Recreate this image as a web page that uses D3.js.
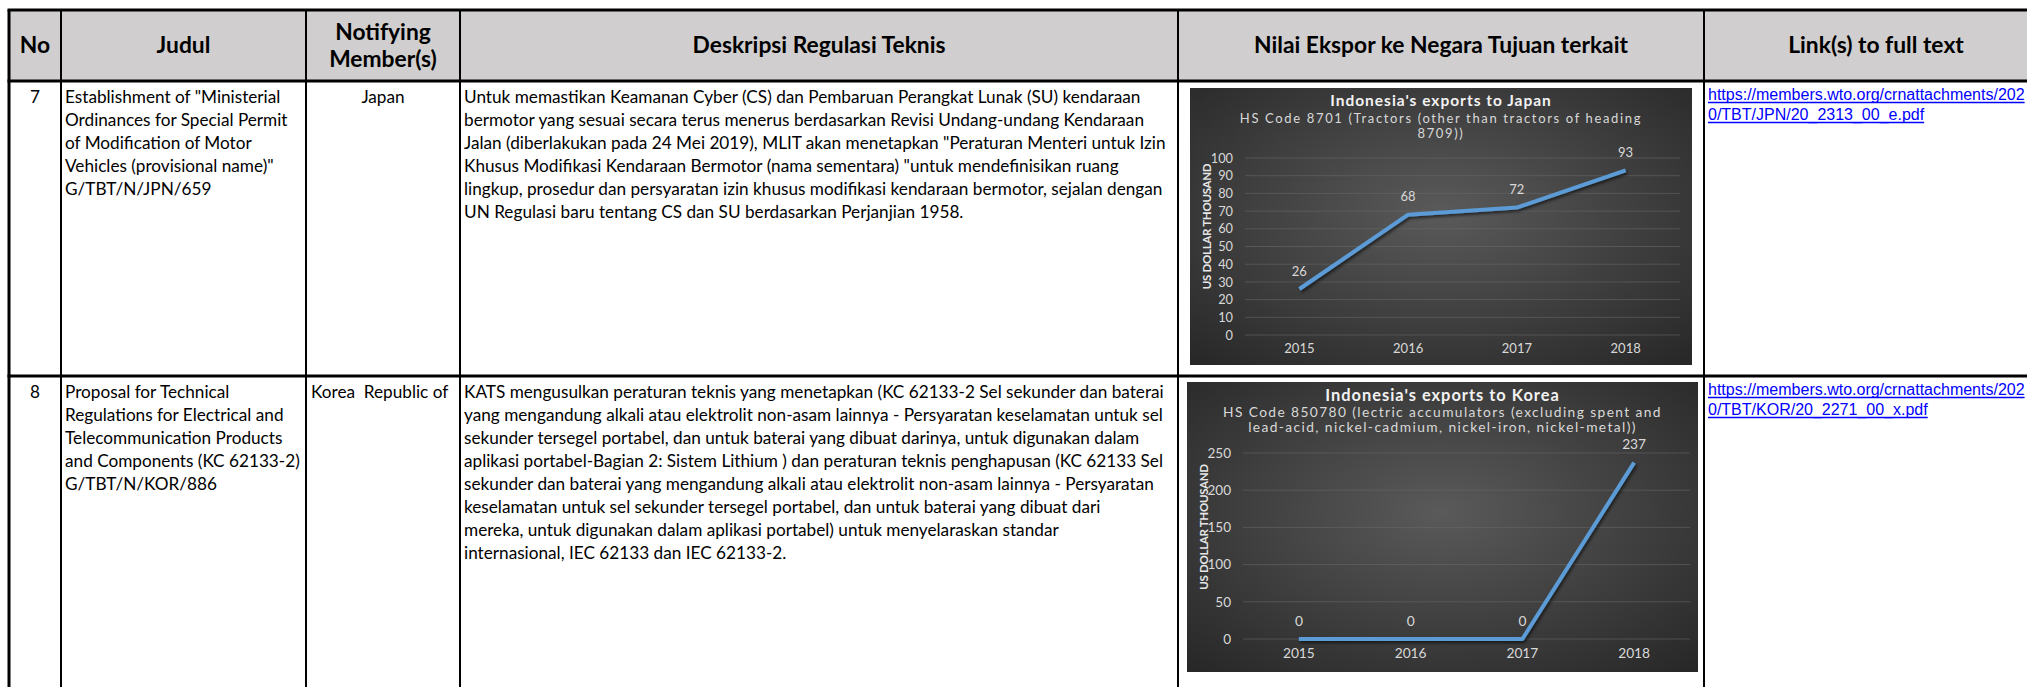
<!DOCTYPE html>
<meta charset='utf-8'>
<style>
  body { margin:0; background:#fff; }
  svg text { font-family:Lato, 'Open Sans', sans-serif; }
  .hdr { font-weight:700; font-size:22.8px; fill:#000; }
  .cell { font-size:17.2px; fill:#000; }
  .link { font-family:'Liberation Sans', Arial, sans-serif; font-size:16px; fill:#0000ff; }
  .ctitle { font-weight:700; fill:#f2f2f2; }
  .csub { fill:#d9d9d9; }
  .ytitle { font-weight:700; font-size:11.5px; fill:#e6e6e6; letter-spacing:-0.3px; }
</style>
<body>
<script src='https://d3js.org/d3.v7.min.js'></script>
<script>
  var width = 2027;
  var height = 687;

  // table content -------------------------------------------------------
  var headers = [['No'], ['Judul'], ['Notifying', 'Member(s)'], ['Deskripsi Regulasi Teknis'],
    ['Nilai Ekspor ke Negara Tujuan terkait'], ['Link(s) to full text']];
  var rowNo = ['7', '8'];
  var rowJudul = [
    ['Establishment of "Ministerial', 'Ordinances for Special Permit', 'of Modification of Motor',
     'Vehicles (provisional name)"', 'G/TBT/N/JPN/659'],
    ['Proposal for Technical', 'Regulations for Electrical and', 'Telecommunication Products',
     'and Components (KC 62133-2)', 'G/TBT/N/KOR/886']
  ];
  var rowMember = ['Japan', 'Korea\u00a0\u00a0Republic of'];
  var rowDesc = [
    ['Untuk memastikan Keamanan Cyber (CS) dan Pembaruan Perangkat Lunak (SU) kendaraan',
     'bermotor yang sesuai secara terus menerus berdasarkan Revisi Undang-undang Kendaraan',
     'Jalan (diberlakukan pada 24 Mei 2019), MLIT akan menetapkan "Peraturan Menteri untuk Izin',
     'Khusus Modifikasi Kendaraan Bermotor (nama sementara) "untuk mendefinisikan ruang',
     'lingkup, prosedur dan persyaratan izin khusus modifikasi kendaraan bermotor, sejalan dengan',
     'UN Regulasi baru tentang CS dan SU berdasarkan Perjanjian 1958.'],
    ['KATS mengusulkan peraturan teknis yang menetapkan (KC 62133-2 Sel sekunder dan baterai',
     'yang mengandung alkali atau elektrolit non-asam lainnya - Persyaratan keselamatan untuk sel',
     'sekunder tersegel portabel, dan untuk baterai yang dibuat darinya, untuk digunakan dalam',
     'aplikasi portabel-Bagian 2: Sistem Lithium ) dan peraturan teknis penghapusan (KC 62133 Sel',
     'sekunder dan baterai yang mengandung alkali atau elektrolit non-asam lainnya - Persyaratan',
     'keselamatan untuk sel sekunder tersegel portabel, dan untuk baterai yang dibuat dari',
     'mereka, untuk digunakan dalam aplikasi portabel) untuk menyelaraskan standar',
     'internasional, IEC 62133 dan IEC 62133-2.']
  ];
  var rowLink = [
    ['https://members.wto.org/crnattachments/202', '0/TBT/JPN/20_2313_00_e.pdf'],
    ['https://members.wto.org/crnattachments/202', '0/TBT/KOR/20_2271_00_x.pdf']
  ];

  // chart data ----------------------------------------------------------
  var years = ['2015', '2016', '2017', '2018'];
  var japanValues = [26, 68, 72, 93];
  var koreaValues = [0, 0, 0, 237];
  var chartTitles = ["Indonesia's exports to Japan", "Indonesia's exports to Korea"];
  var chartSubtitles = [
    ['HS Code 8701 (Tractors (other than tractors of heading', '8709))'],
    ['HS Code 850780 (lectric accumulators (excluding spent and', 'lead-acid, nickel-cadmium, nickel-iron, nickel-metal))']
  ];
  var yMaxes = [100, 250];
  var ySteps = [10, 50];
  var yAxisTitle = 'US DOLLAR THOUSAND';

  // layout --------------------------------------------------------------
  var colX = [9, 61, 306, 460, 1178, 1704, 2050];
  var rowY = [10, 81, 376, 720];
  var lineH = 23;
  var chartBoxes = [
    {x:1190, y:88, w:502, h:277, k:1, ls:1.65, m:{l:55, r:12, t:70, b:30}},
    {x:1187, y:382, w:511, h:290, k:1.06, ls:1.4, m:{l:56, r:8, t:71, b:33}}
  ];

  var svg = d3.select('body').append('svg')
    .attr('width', width)
    .attr('height', height);

  var defs = svg.append('defs');
  var grad = defs.append('radialGradient').attr('id', 'chartBg')
    .attr('cx', '50%').attr('cy', '45%').attr('r', '75%');
  grad.append('stop').attr('offset', '0%').attr('stop-color', '#5a5a5a');
  grad.append('stop').attr('offset', '100%').attr('stop-color', '#262626');
  var shadow = defs.append('filter').attr('id', 'lineShadow')
    .attr('x', '-10%').attr('y', '-10%').attr('width', '120%').attr('height', '120%');
  shadow.append('feDropShadow').attr('dx', 1.5).attr('dy', 2).attr('stdDeviation', 1.5)
    .attr('flood-color', '#000').attr('flood-opacity', 0.6);

  // header --------------------------------------------------------------
  svg.append('rect')
    .attr('x', colX[0]).attr('y', rowY[0])
    .attr('width', colX[6] - colX[0]).attr('height', rowY[1] - rowY[0])
    .attr('fill', '#d0cece');

  headers.forEach(function(lines, i) {
    var cx = (colX[i] + colX[i + 1]) / 2;
    var cy = (rowY[0] + rowY[1]) / 2;
    lines.forEach(function(t, j) {
      svg.append('text').attr('class', 'hdr')
        .attr('x', i === 5 ? 1876 : cx)
        .attr('y', cy + (j - (lines.length - 1) / 2) * 27)
        .attr('dy', '0.35em')
        .attr('text-anchor', 'middle')
        .text(t);
    });
  });

  // body rows -----------------------------------------------------------
  function addLines(lines, x, y0, cls, anchor, lh) {
    return lines.map(function(t, j) {
      return svg.append('text').attr('class', cls)
        .attr('x', x).attr('y', y0 + j * lh)
        .attr('dy', '0.35em')
        .attr('text-anchor', anchor || 'start')
        .text(t);
    });
  }

  [0, 1].forEach(function(r) {
    var y0 = rowY[r + 1] + 16;
    addLines([rowNo[r]], (colX[0] + colX[1]) / 2, y0, 'cell', 'middle', lineH);
    addLines(rowJudul[r], colX[1] + 4, y0, 'cell', 'start', lineH);
    if (r === 0) addLines([rowMember[r]], (colX[2] + colX[3]) / 2, y0, 'cell', 'middle', lineH);
    else addLines([rowMember[r]], colX[2] + 5, y0, 'cell', 'start', lineH);
    addLines(rowDesc[r], colX[3] + 4, y0, 'cell', 'start', lineH);
    var links = addLines(rowLink[r], colX[5] + 4, rowY[r + 1] + 13, 'link', 'start', 20);
    links.forEach(function(t) {
      var len = t.node().getComputedTextLength();
      var ly = +t.attr('y') + 8.5;
      svg.append('line')
        .attr('x1', colX[5] + 4).attr('x2', colX[5] + 4 + len)
        .attr('y1', ly).attr('y2', ly)
        .attr('stroke', '#0000ff').attr('stroke-width', 1.3);
    });
  });

  // charts --------------------------------------------------------------
  function drawChart(box, title, subs, values, yMax, yStep) {
    var g = svg.append('g');
    var x = d3.scaleBand().domain(years)
      .range([box.x + box.m.l, box.x + box.w - box.m.r]);
    var y = d3.scaleLinear().domain([0, yMax])
      .range([box.y + box.h - box.m.b, box.y + box.m.t]);
    var ticks = d3.range(0, yMax + yStep / 2, yStep);
    var cx = box.x + box.w / 2;

    g.append('rect')
      .attr('x', box.x).attr('y', box.y)
      .attr('width', box.w).attr('height', box.h)
      .attr('fill', 'url(#chartBg)');

    g.selectAll('.grid').data(ticks).join('line')
      .attr('class', 'grid')
      .attr('x1', x.range()[0]).attr('x2', x.range()[1])
      .attr('y1', function(d) { return y(d); })
      .attr('y2', function(d) { return y(d); })
      .attr('stroke', '#6a6a6a').attr('stroke-width', 0.8).attr('stroke-opacity', 0.7);

    var ya = g.append('g')
      .attr('transform', 'translate(' + x.range()[0] + ',0)')
      .call(d3.axisLeft(y).tickValues(ticks).tickSize(0).tickPadding(12));
    ya.select('.domain').remove();
    ya.selectAll('text')
      .attr('fill', '#d9d9d9').attr('font-size', 12.8 * box.k).attr('font-family', 'Lato, sans-serif');

    var xa = g.append('g')
      .attr('transform', 'translate(0,' + y(0) + ')')
      .call(d3.axisBottom(x).tickSize(0).tickPadding(9));
    xa.select('.domain').remove();
    xa.selectAll('text')
      .attr('fill', '#d9d9d9').attr('font-size', 13 * box.k).attr('font-family', 'Lato, sans-serif');

    g.append('text').attr('class', 'ctitle')
      .attr('x', cx).attr('y', box.y + 13).attr('dy', '0.35em')
      .attr('font-size', 15.5 * box.k).attr('letter-spacing', 1)
      .attr('text-anchor', 'middle').text(title);
    subs.forEach(function(s, j) {
      g.append('text').attr('class', 'csub')
        .attr('x', cx).attr('y', box.y + 30 + j * 15).attr('dy', '0.35em')
        .attr('font-size', 13 * box.k).attr('letter-spacing', box.ls)
        .attr('text-anchor', 'middle').text(s);
    });

    g.append('text').attr('class', 'ytitle')
      .attr('transform', 'translate(' + (box.x + 17) + ',' + (box.y + box.h / 2) + ') rotate(-90)')
      .attr('text-anchor', 'middle').attr('dy', '0.35em')
      .text(yAxisTitle);

    var pts = years.map(function(yr, i) { return {year:yr, value:values[i]}; });
    var line = d3.line()
      .x(function(d) { return x(d.year) + x.bandwidth() / 2; })
      .y(function(d) { return y(d.value); });
    g.append('path').datum(pts)
      .attr('d', line)
      .attr('fill', 'none')
      .attr('stroke', '#5b9bd5')
      .attr('stroke-width', 4)
      .attr('stroke-linejoin', 'round')
      .attr('filter', 'url(#lineShadow)');

    g.selectAll('.dlabel').data(pts).join('text')
      .attr('class', 'dlabel')
      .attr('x', function(d) { return x(d.year) + x.bandwidth() / 2; })
      .attr('y', function(d) { return y(d.value) - 18; })
      .attr('dy', '0.35em')
      .attr('text-anchor', 'middle')
      .attr('fill', '#d9d9d9').attr('font-size', 13 * box.k)
      .text(function(d) { return d.value; });
  }

  drawChart(chartBoxes[0], chartTitles[0], chartSubtitles[0], japanValues, yMaxes[0], ySteps[0]);
  drawChart(chartBoxes[1], chartTitles[1], chartSubtitles[1], koreaValues, yMaxes[1], ySteps[1]);

  // grid lines of the table -------------------------------------------
  [rowY[0], rowY[1], rowY[2]].forEach(function(yy) {
    svg.append('line')
      .attr('x1', colX[0] - 1.5).attr('x2', colX[6])
      .attr('y1', yy).attr('y2', yy)
      .attr('stroke', '#000').attr('stroke-width', 3);
  });
  colX.slice(0, 6).forEach(function(xx, i) {
    svg.append('line')
      .attr('x1', xx).attr('x2', xx)
      .attr('y1', rowY[0]).attr('y2', rowY[3])
      .attr('stroke', '#000').attr('stroke-width', i === 0 ? 3 : 2);
  });
</script>
</body>
